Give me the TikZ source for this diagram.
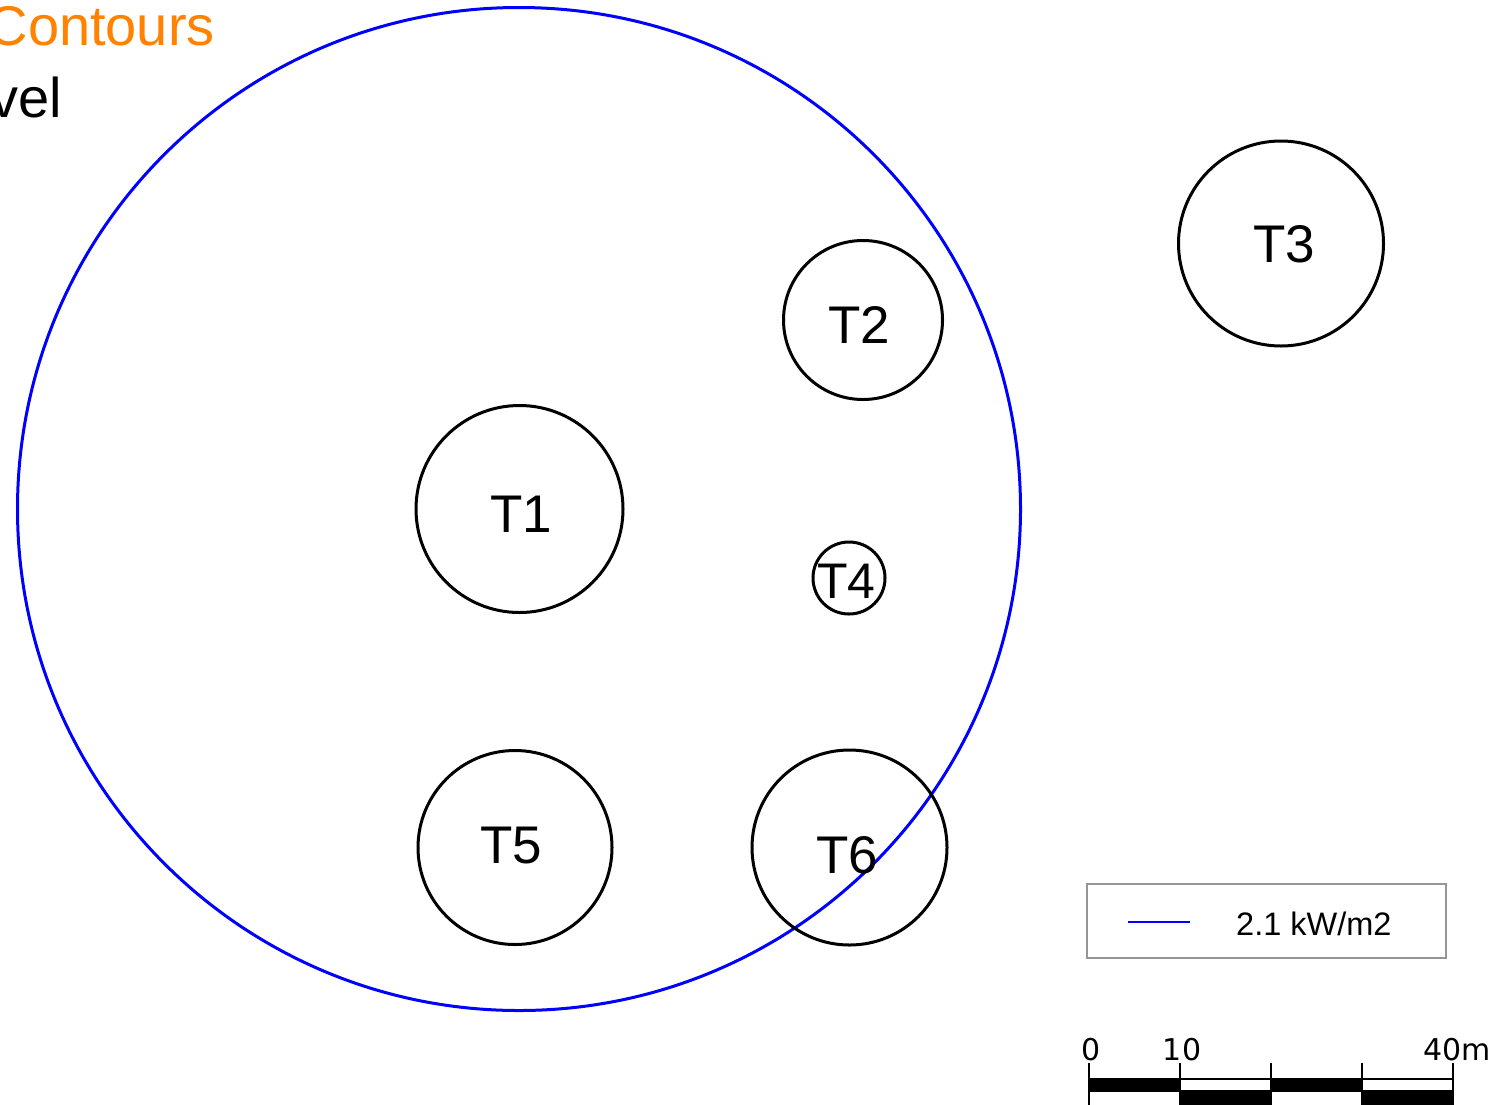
\documentclass[tikz,border=0pt]{standalone}
\usepackage{fontspec}
\setmainfont{Liberation Sans}
\newfontfamily\scalefont{DejaVu Sans}
\definecolor{titleorange}{RGB}{255,130,0}
\definecolor{contourblue}{RGB}{0,0,255}
\definecolor{legendgray}{RGB}{150,150,150}
\begin{document}
\begin{tikzpicture}[x=1pt,y=-1pt,
  tank/.style={draw=black,line width=3pt},
  tanklabel/.style={anchor=base,inner sep=0pt,font=\fontsize{53}{58}\selectfont},
  contour/.style={draw=contourblue,line width=3pt},
  scalelabel/.style={inner sep=0pt,font=\scalefont\fontsize{30}{34}\selectfont},
  titletext/.style={anchor=base east,inner sep=0pt,font=\fontsize{56}{62}\selectfont}]
\useasboundingbox[fill=white] (0,0) rectangle (1498,1104);
% title fragments
\node[titletext,text=titleorange] (title1) at (215,45) {Contours};
\node[titletext,text=black] (title2) at (62,117) {vel};
% contour
\draw[contour] (519,509) circle[radius=501.5pt];
% tanks
\draw[tank] (519.5,509) circle[radius=103.5pt];
\draw[tank] (863,320) circle[radius=79.5pt];
\draw[tank] (1281,243.5) circle[radius=102.5pt];
\draw[tank] (849,578) circle[radius=36pt];
\draw[tank] (515,847.5) circle[radius=97pt];
\draw[tank] (849.5,847.5) circle[radius=97.5pt];
\node[tanklabel] (t1) at (521.5,532) {T1};
\node[tanklabel] (t2) at (859,343) {T2};
\node[tanklabel] (t3) at (1284,262) {T3};
\node[tanklabel,font=\fontsize{50}{55}\selectfont] (t4) at (846.5,598) {T4};
\node[tanklabel] (t5) at (511.5,863) {T5};
\node[tanklabel] (t6) at (847.5,873) {T6};
% legend
\draw[legendgray,line width=1.2pt] (1087,884) rectangle (1446,958);
\coordinate (la) at (1128,922);
\coordinate (lb) at (1190,922);
\draw[contourblue,line width=2pt] (la) -- (lb);
\node[anchor=base west,inner sep=0pt,font=\fontsize{32.5}{36}\selectfont] (legtext) at (1236,935) {2.1 kW/m2};
% scale bar
\fill[black] (1089,1079) rectangle (1180,1091);
\fill[black] (1271,1079) rectangle (1362,1091);
\fill[black] (1180,1091) rectangle (1271,1110);
\fill[black] (1362,1091) rectangle (1453,1110);
\draw[black,line width=1.6pt] (1089,1079) -- (1453,1079);
\draw[black,line width=1.6pt] (1089,1091) -- (1453,1091);
\foreach \xx in {1089,1180,1271,1362,1453} {
  \draw[black,line width=1.8pt] (\xx,1063) -- (\xx,1110);
}
\node[scalelabel,anchor=base] (s0) at (1091,1060) {0};
\node[scalelabel,anchor=base] (s10) at (1182,1060) {10};
\node[scalelabel,anchor=base west] (s40) at (1423,1060) {40m};
\end{tikzpicture}
\end{document}
